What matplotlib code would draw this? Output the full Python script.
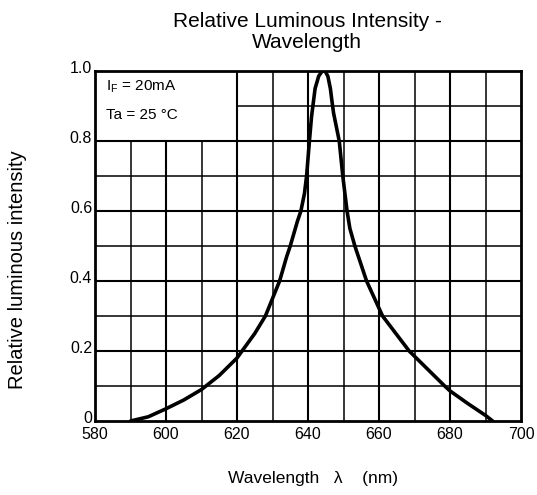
import numpy as np
import matplotlib
matplotlib.use('Agg')
import matplotlib.pyplot as plt
import matplotlib.transforms as mtransforms

plt.rcParams['font.family'] = ['Liberation Sans', 'DejaVu Sans']

# Curve (wavelength in nm, relative intensity)
wavelength = [590, 595, 600, 605, 610, 615, 620, 625, 628, 630, 632, 634, 635,
              637, 638, 639, 639.6, 640, 640.4, 641, 641.5, 642, 643, 644,
              644.8, 645.6, 646.3, 646.8, 647.2, 647.8, 648.8, 649.8, 651,
              651.8, 653.2, 656.5, 661, 668.5, 673.5, 678.5, 680, 685, 690, 692]
intensity = [0.0, 0.012, 0.035, 0.06, 0.09, 0.13, 0.18, 0.25, 0.30, 0.35, 0.40,
             0.47, 0.50, 0.57, 0.60, 0.65, 0.70, 0.75, 0.80, 0.87, 0.91, 0.95,
             0.985, 1.0, 1.0, 0.985, 0.95, 0.91, 0.88, 0.85, 0.80, 0.70, 0.60,
             0.55, 0.50, 0.40, 0.30, 0.20, 0.15, 0.10, 0.086, 0.05, 0.016, 0.0]

x_ticks = [580, 600, 620, 640, 660, 680, 700]
y_ticks = [0, 0.2, 0.4, 0.6, 0.8, 1.0]
y_tick_labels = ['0', '0.2', '0.4', '0.6', '0.8', '1.0']

fig = plt.figure(figsize=(5.37, 4.95), dpi=100)
ax = fig.add_axes([95 / 537, 1 - 421 / 495, 426 / 537, 350 / 495])
ax.set_xlim(580, 700)
ax.set_ylim(0, 1.0)

# grid, leaving the box for the conditions text empty (580-620, 0.8-1.0)
for xv in range(590, 700, 10):
    lw = 1.5 if xv % 20 == 0 else 1.1
    top = 0.8 if xv < 620 else 1.0
    ax.plot([xv, xv], [0, top], color='black', lw=lw, zorder=1)
for i in range(1, 10):
    yv = i / 10
    lw = 1.5 if i % 2 == 0 else 1.1
    left = 620 if yv > 0.8 else 580
    ax.plot([left, 700], [yv, yv], color='black', lw=lw, zorder=1)

ax.plot(wavelength, intensity, color='black', lw=2.6, zorder=3,
        solid_capstyle='round')

for s in ax.spines.values():
    s.set_linewidth(2)

ax.set_xticks(x_ticks)
ax.set_yticks(y_ticks)
ax.set_yticklabels(y_tick_labels)
ax.tick_params(length=0, labelsize=11.5, pad=4)
ax.tick_params(axis='y', pad=2)
offset = mtransforms.ScaledTranslation(0, 4 / 100, fig.dpi_scale_trans)
for lbl in ax.get_yticklabels():
    lbl.set_transform(lbl.get_transform() + offset)

ax.text(583, 0.955, r'I$_\mathregular{F}$ = 20mA', fontsize=11, va='center')
ax.text(583, 0.875, 'Ta = 25 °C', fontsize=11, va='center')

fig.text(307 / 537, 1 - 32 / 495, 'Relative Luminous Intensity -\nWavelength',
         ha='center', va='center', fontsize=15, linespacing=1.15)
fig.text(313 / 537, 1 - 479 / 495, 'Wavelength   λ    (nm)',
         ha='center', va='center', fontsize=12.5)
fig.text(18 / 537, 1 - 270 / 495, 'Relative luminous intensity',
         ha='center', va='center', rotation=90, fontsize=14.5)

fig.savefig('out.png', dpi=100)
